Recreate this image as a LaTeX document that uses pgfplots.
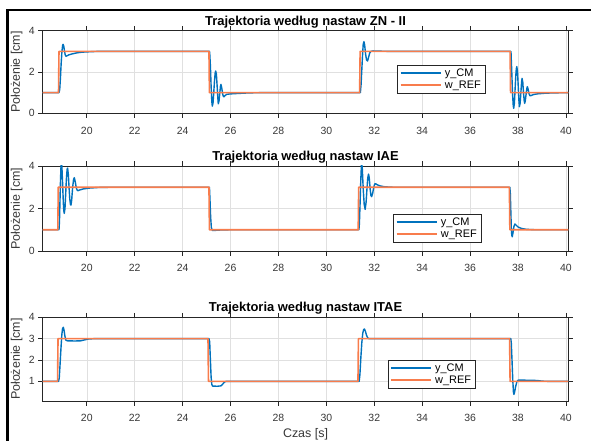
\documentclass[border=0pt]{standalone}
\usepackage{pgfplots}
\pgfplotsset{compat=1.18}
\usepackage{fontspec}
\setmainfont{Liberation Sans}

\definecolor{mblue}{rgb}{0,0.447,0.741}
\definecolor{morange}{RGB}{248,124,76}
\definecolor{axgray}{rgb}{0.15,0.15,0.15}
\definecolor{ticklab}{rgb}{0.22,0.22,0.22}

\pgfplotsset{
  trajaxis/.style={
    scale only axis,
    width=525.6bp,
    xmin=18.16, xmax=40.1,
    xtick={20,22,...,40},
    tick align=outside,
    major tick length=4.5bp,
    axis line style={axgray, line width=0.6bp},
    tick style={axgray, line width=0.6bp},
    grid=major,
    grid style={black!12, line width=0.5bp},
    /pgf/number format/assume math mode=true,
    ticklabel style={font=\fontsize{10.5}{12}\selectfont, text=ticklab},
    xticklabel style={yshift=-5.5bp},
    every axis title/.style={font=\bfseries\fontsize{13}{15}\selectfont,
      at={(axis description cs:0.5,1)}, anchor=base, yshift=5.5bp},
    ylabel style={font=\fontsize{12.5}{14}\selectfont, text=ticklab,
      at={(axis description cs:-0.0495,0.5)}, anchor=center},
    ylabel={Położenie [cm]},
    legend cell align=left,
    legend image code/.code={\draw[#1] (0bp,0bp) -- (40bp,0bp); \path (41.8bp,0bp);},
    legend style={draw=axgray, fill=white,
      font=\fontsize{11}{12}\selectfont, inner xsep=2.4bp, inner ysep=1.6bp,
      nodes={inner sep=1.6bp}},
    clip=true,
  },
  ycm/.style={color=mblue, line width=1.4bp, line join=round},
  wref/.style={color=morange, line width=1.6bp, line join=round},
}

\begin{document}
\begin{tikzpicture}
\fill[white] (0,0) rectangle (591bp,-441bp);
\path[use as bounding box] (0,0) rectangle (591bp,-441bp);

% ---------------- ZN - II ----------------
\begin{axis}[trajaxis,
  at={(42.7bp,-113.3bp)}, anchor=south west,
  height=82.6bp,
  ymin=0, ymax=4, ytick={0,2,4},
  title={Trajektoria według nastaw ZN - II},
  legend style={at={(axis description cs:0.6747,0.585)}, anchor=north west},
]
\addplot[ycm] coordinates {
(18.00,1) (18.84,1) (18.87,1.15) (18.90,1.7) (18.93,2.4) (18.96,2.95) (18.99,3.28)
(19.01,3.34) (19.04,3.25) (19.07,3.02) (19.10,2.83) (19.13,2.76) (19.17,2.78)
(19.25,2.83) (19.40,2.88) (19.60,2.93) (19.80,2.96) (20.10,2.98) (20.50,3.00)
(25.12,3.00) (25.13,2.95) (25.16,2.3) (25.19,1.3) (25.22,0.55) (25.24,0.35)
(25.27,0.5) (25.30,1.0) (25.33,1.55) (25.36,1.95) (25.38,2.05) (25.41,1.9)
(25.44,1.35) (25.47,0.75) (25.49,0.46) (25.52,0.6) (25.55,0.95) (25.58,1.3)
(25.60,1.40) (25.63,1.25) (25.67,0.95) (25.70,0.82) (25.73,0.8) (25.77,0.86)
(25.85,0.92) (26.00,0.94) (26.30,0.96) (26.80,0.99) (27.30,1.00)
(31.42,1.00) (31.45,1.4) (31.48,2.1) (31.51,2.8) (31.54,3.35) (31.57,3.47)
(31.60,3.3) (31.64,2.85) (31.68,2.58) (31.72,2.53) (31.76,2.7) (31.81,2.92)
(31.86,3.0) (31.95,3.02) (32.20,3.01) (32.60,3.00)
(37.70,3.00) (37.71,2.9) (37.74,2.0) (37.77,1.0) (37.80,0.4) (37.82,0.24)
(37.85,0.5) (37.88,1.2) (37.91,1.85) (37.93,2.15) (37.95,2.26) (37.98,2.0)
(38.01,1.3) (38.04,0.6) (38.06,0.32) (38.09,0.5) (38.12,1.0) (38.15,1.5)
(38.17,1.69) (38.20,1.5) (38.23,1.0) (38.26,0.6) (38.28,0.48) (38.31,0.65)
(38.34,0.95) (38.37,1.2) (38.39,1.29) (38.42,1.18) (38.46,0.95) (38.50,0.85)
(38.55,0.86) (38.65,0.91) (38.80,0.94) (39.10,0.97) (39.50,0.99) (40.20,1.00)
};
\addlegendentry{y\_CM}
\addplot[wref] coordinates {
(18.00,1) (18.82,1) (18.84,3) (25.10,3) (25.12,1) (31.39,1) (31.41,3)
(37.67,3) (37.69,1) (40.20,1)
};
\addlegendentry{w\_REF}
\end{axis}

% ---------------- IAE ----------------
\begin{axis}[trajaxis,
  at={(42.7bp,-251bp)}, anchor=south west,
  height=85bp,
  ymin=0, ymax=4, ytick={0,2,4},
  title={Trajektoria według nastaw IAE},
  legend style={at={(axis description cs:0.667,0.435)}, anchor=north west},
]
\addplot[ycm] coordinates {
(18.00,1) (18.84,1) (18.86,1.4) (18.88,2.3) (18.90,3.2) (18.92,3.9) (18.94,4.15)
(18.96,4.0) (18.99,3.2) (19.02,2.3) (19.04,1.9) (19.06,1.77) (19.09,2.0)
(19.12,2.7) (19.15,3.4) (19.18,3.85) (19.20,3.9) (19.23,3.6) (19.26,3.0)
(19.29,2.45) (19.32,2.18) (19.34,2.16) (19.37,2.4) (19.41,3.0) (19.45,3.38)
(19.48,3.45) (19.52,3.25) (19.56,2.98) (19.60,2.86) (19.63,2.84) (19.70,2.87)
(19.85,2.92) (20.10,2.96) (20.50,2.99) (21.00,3.00)
(25.12,3.00) (25.14,2.5) (25.17,1.6) (25.20,1.1) (25.24,0.97) (25.35,0.97)
(25.60,0.99) (26.00,1.00)
(31.36,1.00) (31.38,1.3) (31.41,2.3) (31.44,3.4) (31.47,4.2) (31.50,3.9)
(31.54,2.9) (31.58,2.2) (31.62,1.96) (31.66,2.3) (31.70,3.0) (31.73,3.45)
(31.76,3.62) (31.79,3.45) (31.83,2.9) (31.86,2.62) (31.89,2.56) (31.93,2.7)
(31.98,3.0) (32.02,3.15) (32.05,3.17) (32.12,3.12) (32.25,3.06) (32.45,3.02)
(32.80,3.00)
(37.66,3.00) (37.68,2.7) (37.70,1.9) (37.72,1.1) (37.74,0.75) (37.76,0.67)
(37.79,0.85) (37.83,1.15) (37.87,1.27) (37.92,1.22) (38.00,1.13) (38.15,1.06)
(38.35,1.02) (38.70,1.00) (40.20,1.00)
};
\addlegendentry{y\_CM}
\addplot[wref] coordinates {
(18.00,1) (18.79,1) (18.81,3) (25.10,3) (25.12,1) (31.33,1) (31.35,3)
(37.64,3) (37.66,1) (40.20,1)
};
\addlegendentry{w\_REF}
\end{axis}

% ---------------- ITAE ----------------
\begin{axis}[trajaxis,
  at={(42.7bp,-401bp)}, anchor=south west,
  height=83.7bp,
  ymin=0.08, ymax=4, ytick={1,2,3,4},
  title={Trajektoria według nastaw ITAE},
  xlabel={Czas [s]},
  xlabel style={font=\fontsize{12.5}{14}\selectfont, text=ticklab,
    at={(axis description cs:0.5,-0.40)}, anchor=center},
  legend style={at={(axis description cs:0.656,0.49)}, anchor=north west},
]
\addplot[ycm] coordinates {
(18.00,1) (18.82,1) (18.85,1.15) (18.88,1.7) (18.92,2.5) (18.96,3.2) (18.99,3.48)
(19.02,3.53) (19.05,3.4) (19.09,3.1) (19.13,2.93) (19.18,2.9) (19.50,2.89)
(19.75,2.9) (19.90,2.94) (20.05,2.98) (20.30,3.00)
(25.10,3.00) (25.13,2.85) (25.16,2.0) (25.19,1.2) (25.22,0.85) (25.25,0.78)
(25.45,0.77) (25.60,0.79) (25.68,0.88) (25.75,0.97) (25.82,1.00)
(31.37,1.00) (31.40,1.3) (31.44,2.1) (31.48,2.8) (31.52,3.25) (31.56,3.43)
(31.59,3.45) (31.63,3.35) (31.68,3.15) (31.73,3.03) (31.78,3.00)
(37.70,3.00) (37.72,2.8) (37.75,2.0) (37.78,1.1) (37.81,0.5) (37.83,0.39)
(37.86,0.5) (37.90,0.75) (37.95,0.97) (38.00,1.05) (38.05,1.06) (38.50,1.05)
(38.80,1.04) (39.00,1.01) (39.30,1.00) (40.20,1.00)
};
\addlegendentry{y\_CM}
\addplot[wref] coordinates {
(18.00,1) (18.78,1) (18.80,3) (25.06,3) (25.08,1) (31.32,1) (31.34,3)
(37.65,3) (37.67,1) (40.20,1)
};
\addlegendentry{w\_REF}
\end{axis}

% window frame
\draw[black, line width=2.5bp] (7.3bp,-441bp) -- (7.3bp,-10bp) -- (591bp,-10bp);
\end{tikzpicture}
\end{document}
